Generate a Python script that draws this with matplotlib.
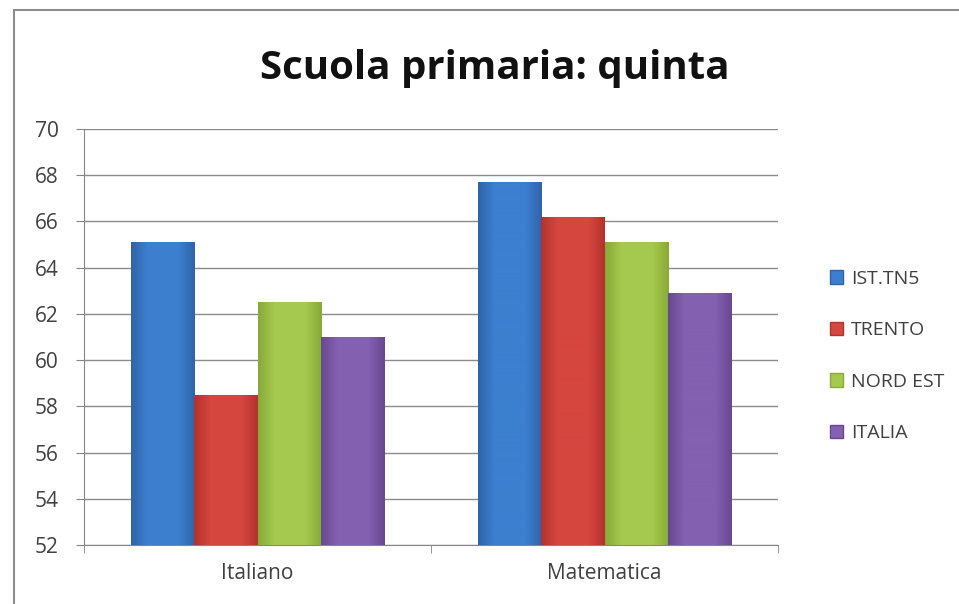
import numpy as np
import matplotlib.pyplot as plt
from matplotlib.colors import LinearSegmentedColormap
from matplotlib.patches import Rectangle

categories = ['Italiano', 'Matematica']
series = ['IST.TN5', 'TRENTO', 'NORD EST', 'ITALIA']
ist_tn5 = [65.1, 67.7]
trento = [58.5, 66.2]
nord_est = [62.5, 65.1]
italia = [61.0, 62.9]
values = [ist_tn5, trento, nord_est, italia]

# base colours with a dark edge and a light centre (Excel 2007 look)
colors = [
    ('#2f64aa', '#3c7fcf'),
    ('#b3322d', '#d5463f'),
    ('#88aa38', '#a5c94e'),
    ('#684890', '#8360b0'),
]
y_ticks = np.arange(52, 71, 2)

plt.rcParams['font.family'] = ['Open Sans', 'DejaVu Sans']

fig = plt.figure(figsize=(9.59, 6.04), dpi=100)
fig.patches.append(Rectangle((14/959, -0.1), 1.2, 1.1 - 10/604, transform=fig.transFigure,
                             fill=False, edgecolor='#8c8c8c', linewidth=1.5))

ax = fig.add_axes([84/959, 1 - 545/604, (778 - 84)/959, (545 - 129)/604])

bar_w = 0.182
x = np.arange(len(categories))
offsets = (np.arange(len(series)) - 1.5) * bar_w

for i, name in enumerate(series):
    dark, light = colors[i]
    cmap = LinearSegmentedColormap.from_list(name, [dark, light, light, light, dark])
    bars = ax.bar(x + offsets[i], values[i], width=bar_w, bottom=0, color=light,
                  edgecolor='none', label=name, zorder=3)
    grad = np.linspace(0, 1, 64).reshape(1, -1)
    for b in bars:
        x0 = b.get_x()
        im = ax.imshow(grad, cmap=cmap, aspect='auto', zorder=3.5,
                       extent=(x0, x0 + b.get_width(), 52, b.get_height()))
        im.set_clip_path(b)

ax.set_xlim(-0.5, 1.5)
ax.set_ylim(52, 70)
ax.set_yticks(y_ticks)
ax.set_xticks(x)
ax.set_xticklabels(categories)
ax.set_xticks([-0.5, 0.5, 1.5], minor=True)
ax.tick_params(axis='x', which='major', length=0, pad=13, labelsize=15, labelcolor='#404040')
ax.tick_params(axis='x', which='minor', length=6, color='#868686', direction='out')
ax.tick_params(axis='y', length=6, color='#868686', pad=12, labelsize=15, labelcolor='#404040')
ax.grid(axis='y', color='#8a8a8a', linewidth=1, zorder=0)
for s in ['top', 'right']:
    ax.spines[s].set_visible(False)
for s in ['left', 'bottom']:
    ax.spines[s].set_color('#868686')

fig.text(495/959, 1 - 68/604, 'Scuola primaria: quinta', ha='center', va='center',
         fontsize=29, fontweight='bold', color='#111111')

handles = [Rectangle((0, 0), 1, 1, facecolor=colors[i][1], edgecolor=colors[i][0]) for i in range(4)]
fig.legend(handles, series, loc='center left', bbox_to_anchor=(812/959, 1 - 356/604),
           frameon=False, fontsize=14, labelcolor='#404040', handlelength=0.7,
           handleheight=0.7, handletextpad=0.4, labelspacing=1.72)

fig.savefig('out.png', dpi=100)
